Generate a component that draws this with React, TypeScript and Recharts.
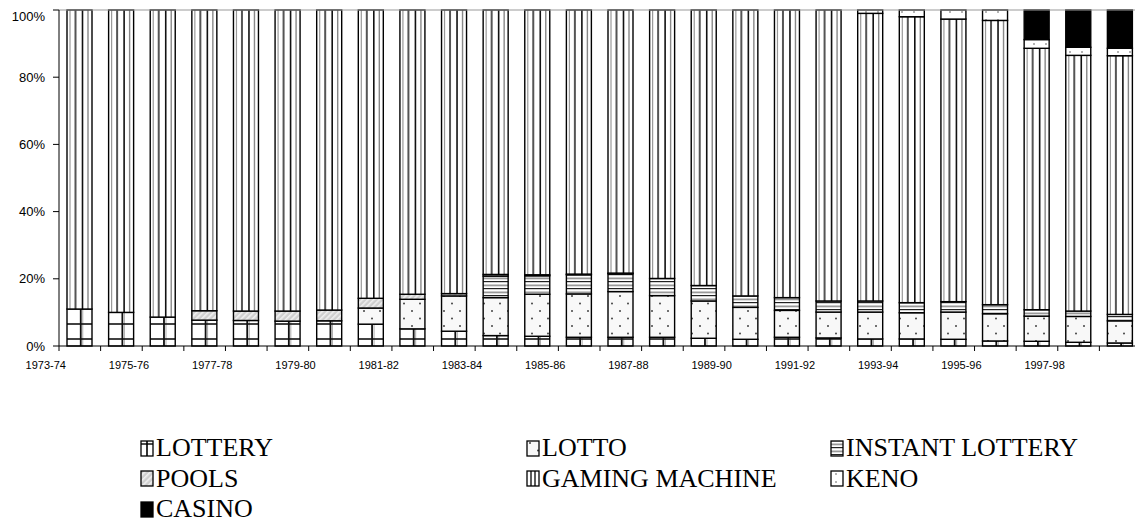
import React from "react";
import { Bar, BarChart, Legend, ReferenceLine, XAxis, YAxis } from "recharts";

const years = [
  "1973-74", "1974-75", "1975-76", "1976-77", "1977-78", "1978-79", "1979-80",
  "1980-81", "1981-82", "1982-83", "1983-84", "1984-85", "1985-86", "1986-87",
  "1987-88", "1988-89", "1989-90", "1990-91", "1991-92", "1992-93", "1993-94",
  "1994-95", "1995-96", "1996-97", "1997-98", "1998-99",
];

// shares of total gambling expenditure, %
const lottery = [11.0, 10.0, 8.6, 7.7, 7.6, 7.4, 7.5, 6.5, 5.1, 4.4, 3.1, 2.9, 2.6, 2.6, 2.6, 2.3, 2.0, 2.6, 2.4, 2.1, 2.1, 2.0, 1.5, 1.4, 1.1, 0.9];
const lotto = [0, 0, 0, 0, 0, 0, 0, 4.8, 8.8, 10.5, 11.3, 12.5, 12.9, 13.6, 12.4, 11.1, 9.5, 8.0, 7.7, 8.0, 7.8, 8.1, 8.1, 7.5, 7.7, 6.6];
const instant = [0, 0, 0, 0, 0, 0, 0, 0, 0, 0, 6.4, 5.5, 5.7, 5.3, 5.1, 4.6, 3.4, 3.8, 3.3, 3.3, 3.0, 3.1, 2.7, 1.9, 1.6, 1.9];
const pools = [0, 0, 0, 2.8, 2.8, 3.0, 3.2, 2.9, 1.5, 0.7, 0.5, 0.3, 0.2, 0.2, 0, 0, 0, 0, 0, 0, 0, 0, 0, 0, 0, 0];
const gaming = [89.0, 90.0, 91.4, 89.5, 89.6, 89.6, 89.3, 85.8, 84.6, 84.4, 78.7, 78.8, 78.6, 78.3, 79.9, 82.0, 85.1, 85.6, 86.6, 85.6, 85.1, 84.1, 84.6, 77.8, 76.1, 77.0];
const keno = [0, 0, 0, 0, 0, 0, 0, 0, 0, 0, 0, 0, 0, 0, 0, 0, 0, 0, 0, 1.0, 2.0, 2.7, 3.1, 2.6, 2.4, 2.2];
const casino = [0, 0, 0, 0, 0, 0, 0, 0, 0, 0, 0, 0, 0, 0, 0, 0, 0, 0, 0, 0, 0, 0, 0, 8.8, 11.1, 11.4];

const yTicks = [0, 0.2, 0.4, 0.6, 0.8, 1];

const data = years.map((year, i) => ({
  year,
  LOTTERY: lottery[i],
  LOTTO: lotto[i],
  INSTANT: instant[i],
  POOLS: pools[i],
  GAMING: gaming[i],
  KENO: keno[i],
  CASINO: casino[i],
}));

const W = 1135;
const H = 513;
const PLOT_W = 1082;
const BAND = PLOT_W / years.length;

const sans = "'Liberation Sans', Arial, sans-serif";
const serif = "'Liberation Serif', 'Times New Roman', serif";

type ShapeProps = { x?: number; y?: number; width?: number; height?: number };

const outline = (x: number, y: number, w: number, h: number) => (
  <rect x={x} y={y} width={w} height={h} fill="none" stroke="#000" strokeWidth={1.4} />
);

const LotteryShape = ({ x = 0, y = 0, width = 0, height = 0 }: ShapeProps) => {
  if (!height || height <= 0) return null;
  const bottom = y + height;
  const lines = [];
  for (let ly = bottom - 7; ly > y + 1; ly -= 15) lines.push(ly);
  return (
    <g>
      <rect x={x} y={y} width={width} height={height} fill="#fff" />
      <line x1={x + width * 0.55} x2={x + width * 0.55} y1={y} y2={bottom} stroke="#111" strokeWidth={1.8} />
      <line x1={x + width * 0.55 + 2} x2={x + width * 0.55 + 2} y1={y} y2={bottom} stroke="#aaa" strokeWidth={1} />
      {lines.map((ly) => (
        <line key={ly} x1={x} x2={x + width} y1={ly} y2={ly} stroke="#111" strokeWidth={1.6} />
      ))}
      {outline(x, y, width, height)}
    </g>
  );
};

const GamingShape = ({ x = 0, y = 0, width = 0, height = 0 }: ShapeProps) => {
  if (!height || height <= 0) return null;
  const v = (f: number, c: string, sw: number) => (
    <line x1={x + width * f} x2={x + width * f} y1={y} y2={y + height} stroke={c} strokeWidth={sw} />
  );
  return (
    <g>
      <rect x={x} y={y} width={width} height={height} fill="#fff" />
      {v(0.12, "#999", 1.2)}
      {v(0.34, "#555", 2)}
      {v(0.62, "#111", 1.6)}
      {v(0.84, "#888", 1.4)}
      {outline(x, y, width, height)}
    </g>
  );
};

const patternShape = (fill: string) => ({ x = 0, y = 0, width = 0, height = 0 }: ShapeProps) => {
  if (!height || height <= 0) return null;
  return (
    <g>
      <rect x={x} y={y} width={width} height={height} fill={fill} />
      {outline(x, y, width, height)}
    </g>
  );
};

const series = [
  { key: "LOTTERY", name: "LOTTERY", shape: LotteryShape, icon: "lottery" },
  { key: "LOTTO", name: "LOTTO", shape: patternShape("url(#patLotto)"), icon: "url(#patLotto)" },
  { key: "INSTANT", name: "INSTANT LOTTERY", shape: patternShape("url(#patInstant)"), icon: "url(#patInstant)" },
  { key: "POOLS", name: "POOLS", shape: patternShape("url(#patPools)"), icon: "url(#patPools)" },
  { key: "GAMING", name: "GAMING MACHINE", shape: GamingShape, icon: "gaming" },
  { key: "KENO", name: "KENO", shape: patternShape("url(#patKeno)"), icon: "url(#patKeno)" },
  { key: "CASINO", name: "CASINO", shape: patternShape("#000"), icon: "#000" },
];

const Icon = ({ kind }: { kind: string }) => {
  const w = 12;
  const h = 15;
  let inner: React.ReactNode = <rect x={1} y={1} width={w} height={h} fill={kind} />;
  if (kind === "lottery") {
    inner = (
      <g>
        <rect x={1} y={1} width={w} height={h} fill="#fff" />
        <line x1={7} x2={7} y1={1} y2={16} stroke="#000" strokeWidth={1.6} />
        <line x1={1} x2={13} y1={4} y2={4} stroke="#000" strokeWidth={1.4} />
      </g>
    );
  } else if (kind === "gaming") {
    inner = (
      <g>
        <rect x={1} y={1} width={w} height={h} fill="#fff" />
        <line x1={5} x2={5} y1={1} y2={16} stroke="#333" strokeWidth={1.6} />
        <line x1={9} x2={9} y1={1} y2={16} stroke="#333" strokeWidth={1.6} />
      </g>
    );
  }
  return (
    <svg width={15} height={17} style={{ display: "block", marginRight: 1 }}>
      {inner}
      <rect x={1} y={1} width={w} height={h} fill="none" stroke="#000" strokeWidth={1.3} />
    </svg>
  );
};

const LegendContent = () => (
  <div
    style={{
      display: "grid",
      gridTemplateColumns: "386px 304px 310px",
      fontFamily: serif,
      fontSize: 26,
      lineHeight: "30.5px",
      color: "#000",
    }}
  >
    {series.map((s) => (
      <div key={s.key} style={{ display: "flex", alignItems: "center", whiteSpace: "nowrap" }}>
        <Icon kind={s.icon} />
        <span>{s.name}</span>
      </div>
    ))}
  </div>
);

const XTick = (props: any) => {
  const { x, y, index } = props;
  const left = x - BAND / 2;
  return (
    <g>
      <line x1={left} x2={left} y1={y} y2={y + 5} stroke="#000" strokeWidth={1} />
      {index === years.length - 1 && (
        <line x1={x + BAND / 2} x2={x + BAND / 2} y1={y} y2={y + 5} stroke="#000" strokeWidth={1} />
      )}
      {index % 2 === 0 && (
        <text x={x - 34} y={y + 23} textAnchor="middle" fontFamily={sans} fontSize={11} fill="#000">
          {years[index]}
        </text>
      )}
    </g>
  );
};

export default function App() {
  return (
    <BarChart
      width={W}
      height={H}
      data={data}
      stackOffset="expand"
      barSize={25}
      margin={{ top: 2, right: 1, bottom: 145, left: 0 }}
    >
      <defs>
        <pattern id="patLotto" patternUnits="userSpaceOnUse" width={16} height={15}>
          <rect width={16} height={15} fill="#f8f8f8" />
          <circle cx={4} cy={3} r={1} fill="#444" />
          <circle cx={12} cy={10.5} r={1} fill="#444" />
        </pattern>
        <pattern id="patInstant" patternUnits="userSpaceOnUse" width={4} height={7}>
          <rect width={4} height={7} fill="#fff" />
          <rect y={0} width={4} height={1.2} fill="#222" />
          <rect y={3.5} width={4} height={1.8} fill="#999" />
        </pattern>
        <pattern id="patPools" patternUnits="userSpaceOnUse" width={4} height={4} patternTransform="rotate(45)">
          <rect width={4} height={4} fill="#cfcfcf" />
          <rect width={1.6} height={4} fill="#f0f0f0" />
        </pattern>
        <pattern id="patKeno" patternUnits="userSpaceOnUse" width={12} height={8}>
          <rect width={12} height={8} fill="#fff" />
          <circle cx={6} cy={4} r={0.8} fill="#555" />
        </pattern>
      </defs>
      <XAxis
        dataKey="year"
        interval={0}
        height={30}
        tickSize={0}
        tickMargin={0}
        axisLine={{ stroke: "#000", strokeWidth: 1 }}
        tick={<XTick />}
      />
      <YAxis
        width={51}
        domain={[0, 1]}
        ticks={yTicks}
        tickSize={6}
        tickMargin={8}
        tickFormatter={(v: number) => `${Math.round(v * 100)}%`}
        axisLine={{ stroke: "#000", strokeWidth: 1 }}
        tickLine={{ stroke: "#000" }}
        tick={{ fill: "#000", fontFamily: sans, fontSize: 13 }}
      />
      <YAxis
        yAxisId="right"
        orientation="right"
        width={1}
        tick={false}
        tickLine={false}
        axisLine={{ stroke: "#999", strokeWidth: 1 }}
      />
      <ReferenceLine y={1} stroke="#999" strokeWidth={1} />
      {series.map((s) => (
        <Bar
          key={s.key}
          dataKey={s.key}
          name={s.name}
          stackId="a"
          shape={s.shape as any}
          isAnimationActive={false}
        />
      ))}
      <Legend
        layout="horizontal"
        verticalAlign="middle"
        align="center"
        content={<LegendContent />}
        wrapperStyle={{ top: 425, left: 132, width: 1000, height: 92 }}
      />
    </BarChart>
  );
}
